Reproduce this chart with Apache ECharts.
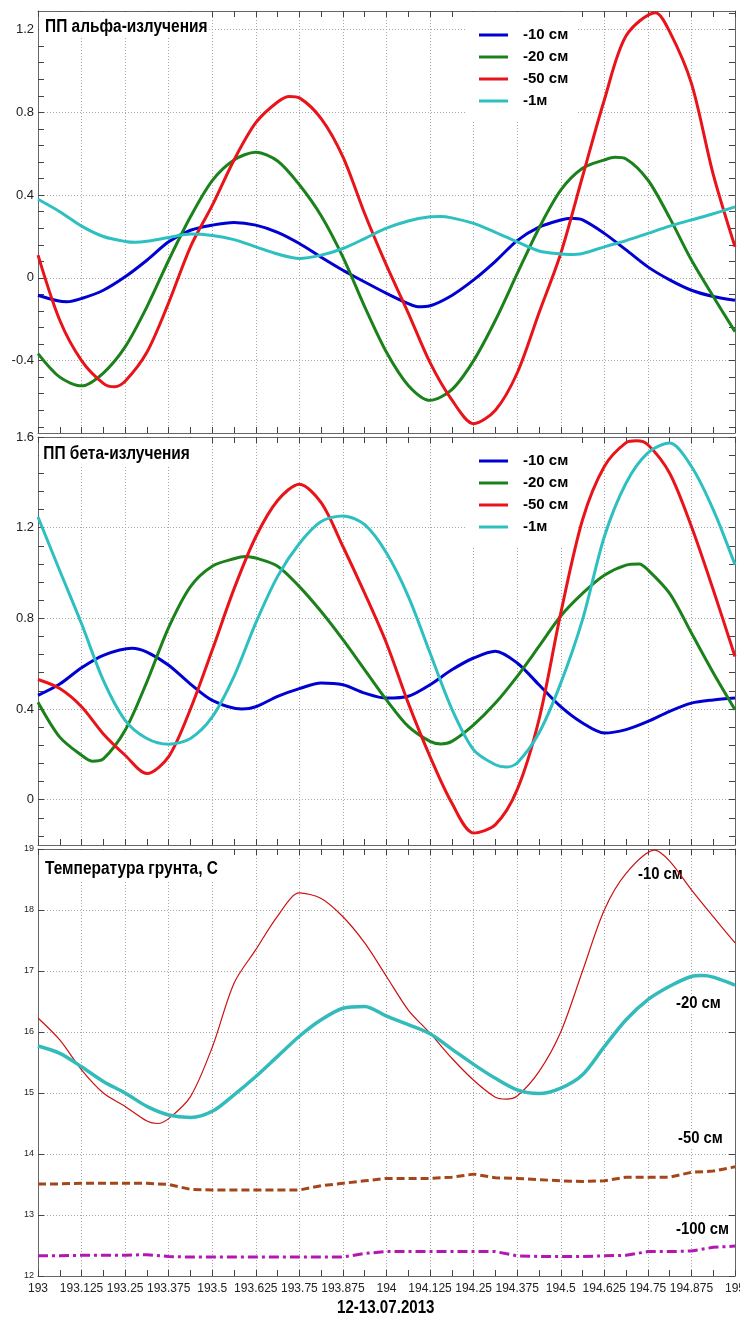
<!DOCTYPE html>
<html><head><meta charset="utf-8">
<script src="https://cdn.jsdelivr.net/npm/echarts@6/dist/echarts.min.js"></script>
<style>html,body{margin:0;padding:0;background:#fff}#c{width:740px;height:1319px}</style>
</head><body><div id="c"></div>
<script>
// x values (day of year)
const times = [193,193.0625,193.125,193.1875,193.25,193.3125,193.375,193.4375,193.5,193.5625,193.625,193.6875,193.75,193.8125,193.875,193.9375,194,194.0625,194.125,194.1875,194.25,194.3125,194.375,194.4375,194.5,194.5625,194.625,194.6875,194.75,194.8125,194.875,194.9375,195];

// ПП альфа-излучения (values at the times above, plus read-off turning points [t, v])
const alpha10 = [-0.084,-0.113,-0.10,-0.06,0.005,0.085,0.174,0.23,0.255,0.268,0.255,0.22,0.166,0.10,0.037,-0.02,-0.075,-0.125,-0.135,-0.085,-0.01,0.08,0.18,0.245,0.28,0.28,0.215,0.135,0.053,-0.01,-0.06,-0.09,-0.108];
const alpha10Turns = [[193.083,-0.116],[194.09,-0.14],[194.53,0.288]];
const alpha20 = [-0.366,-0.48,-0.522,-0.46,-0.334,-0.14,0.085,0.295,0.47,0.57,0.607,0.565,0.45,0.30,0.10,-0.14,-0.36,-0.52,-0.592,-0.54,-0.40,-0.205,0.02,0.24,0.424,0.53,0.57,0.575,0.473,0.29,0.086,-0.09,-0.26];
const alpha20Turns = [[194.655,0.583]];
const alpha50 = [0.11,-0.205,-0.40,-0.51,-0.50,-0.36,-0.12,0.15,0.35,0.57,0.75,0.85,0.87,0.77,0.585,0.31,0.06,-0.17,-0.41,-0.59,-0.705,-0.64,-0.46,-0.17,0.118,0.49,0.86,1.17,1.275,1.19,0.94,0.50,0.15];
const alpha50Turns = [[193.22,-0.527],[193.722,0.877],[194.772,1.282]];
const alpha1m = [0.38,0.32,0.25,0.20,0.176,0.177,0.195,0.212,0.205,0.185,0.15,0.115,0.094,0.11,0.142,0.19,0.24,0.275,0.295,0.29,0.263,0.22,0.174,0.13,0.115,0.118,0.15,0.18,0.215,0.25,0.28,0.31,0.343];
const alpha1mTurns = [[193.28,0.172],[194.155,0.297],[194.525,0.113]];

// ПП бета-излучения
const beta10 = [0.46,0.51,0.582,0.637,0.666,0.651,0.593,0.51,0.438,0.404,0.41,0.456,0.49,0.515,0.507,0.47,0.448,0.456,0.507,0.573,0.625,0.655,0.603,0.507,0.41,0.338,0.294,0.309,0.345,0.39,0.426,0.44,0.448];
const beta10Turns = [[193.27,0.668],[193.585,0.40]];
const beta20 = [0.43,0.276,0.196,0.18,0.306,0.52,0.76,0.94,1.03,1.063,1.066,1.03,0.94,0.83,0.706,0.573,0.44,0.323,0.257,0.257,0.33,0.426,0.544,0.676,0.81,0.91,0.99,1.035,1.014,0.91,0.735,0.56,0.397];
const beta20Turns = [[193.155,0.17],[193.594,1.073],[194.156,0.246],[194.725,1.04]];
const beta50 = [0.53,0.49,0.41,0.29,0.196,0.115,0.19,0.40,0.66,0.93,1.16,1.32,1.392,1.31,1.117,0.91,0.69,0.426,0.19,-0.015,-0.147,-0.11,0.044,0.353,0.823,1.235,1.47,1.575,1.566,1.44,1.205,0.926,0.632];
const beta50Turns = [[194.717,1.583]];
const beta1m = [1.247,1.01,0.776,0.526,0.35,0.27,0.245,0.27,0.365,0.544,0.78,0.985,1.13,1.227,1.252,1.213,1.088,0.897,0.647,0.40,0.22,0.154,0.162,0.294,0.514,0.794,1.16,1.397,1.53,1.573,1.47,1.28,1.036];
const beta1mTurns = [[194.343,0.144]];

// Температура грунта, С
const temp10 = [16.23,15.87,15.38,15.0,14.78,14.54,14.58,14.94,15.75,16.8,17.35,17.9,18.28,18.19,17.89,17.46,16.91,16.36,15.98,15.57,15.21,14.93,14.95,15.35,16.0,17.0,18.0,18.6,18.96,18.8,18.33,17.89,17.46];
const temp10Turns = [[193.343,14.5],[194.343,14.9],[194.77,18.98]];
const temp20 = [15.77,15.65,15.43,15.19,15.0,14.78,14.64,14.6,14.7,14.97,15.27,15.6,15.93,16.2,16.39,16.42,16.26,16.12,15.97,15.72,15.47,15.24,15.05,14.99,15.08,15.3,15.76,16.2,16.53,16.75,16.91,16.9,16.77];
const temp20Turns = [[194.905,16.925]];
const temp50 = [13.51,13.51,13.52,13.52,13.52,13.52,13.50,13.42,13.41,13.41,13.41,13.41,13.41,13.48,13.52,13.56,13.60,13.60,13.60,13.62,13.67,13.61,13.60,13.58,13.56,13.55,13.56,13.62,13.62,13.62,13.70,13.72,13.79];
const temp100 = [12.33,12.33,12.34,12.34,12.34,12.35,12.32,12.31,12.31,12.31,12.31,12.31,12.31,12.31,12.31,12.37,12.40,12.40,12.40,12.40,12.40,12.40,12.33,12.32,12.32,12.32,12.33,12.34,12.40,12.40,12.41,12.47,12.49];

// tick labels
const alphaLabels = [-0.4, 0, 0.4, 0.8, 1.2];
const betaLabels = [0, 0.4, 0.8, 1.2, 1.6];
const tempLabels = [12, 13, 14, 15, 16, 17, 18, 19];
const legendNames = ['-10 см', '-20 см', '-50 см', '-1м'];

function steps(min, max, step) {
  const out = [];
  for (let k = Math.ceil(min / step - 1e-9); k * step <= max + 1e-9; k++) out.push(Math.round(k * step * 1000) / 1000);
  return out;
}

const L = "'Liberation Sans',Arial,sans-serif";
const frame = {color: '#666', width: 1};
const tickStyle = {color: '#444', width: 1};

function xAx(gi, pos, showLabel) {
  return {
    type: 'value', gridIndex: gi, position: pos, min: 193, max: 195, interval: 0.125,
    axisLine: {show: true, onZero: false, lineStyle: frame},
    axisTick: {show: true, inside: true, length: 6, lineStyle: tickStyle},
    minorTick: {show: true, splitNumber: 2, length: 6, lineStyle: tickStyle},
    axisLabel: {show: showLabel, fontFamily: L, fontSize: 12, color: '#222', margin: 7, formatter: v => String(v)},
    splitLine: {show: pos === 'bottom', lineStyle: {color: '#a8a8a8', type: [1, 2], width: 1}},
    minorSplitLine: {show: false}
  };
}

function yAxs(gi, min, max, labels, ticks, fs) {
  const base = {type: 'value', gridIndex: gi, min: min, max: max, scale: true};
  return [
    Object.assign({}, base, {
      position: 'left',
      axisLine: {show: true, onZero: false, lineStyle: frame},
      axisTick: {show: true, inside: true, length: 6, customValues: ticks, lineStyle: tickStyle},
      axisLabel: {show: true, customValues: labels, fontFamily: L, fontSize: fs, color: '#222', margin: 4},
      splitLine: {show: false}
    }),
    Object.assign({}, base, {
      position: 'right',
      axisLine: {show: true, onZero: false, lineStyle: frame},
      axisTick: {show: true, inside: true, length: 6, customValues: ticks, lineStyle: tickStyle},
      axisLabel: {show: false},
      splitLine: {show: false}
    }),
    Object.assign({}, base, {
      position: 'left',
      axisLine: {show: false},
      axisTick: {show: false, customValues: labels},
      axisLabel: {show: false},
      splitLine: {show: true, lineStyle: {color: '#a8a8a8', type: [1, 2], width: 1}}
    })
  ];
}

// merge regular samples with read-off turning points (a turning point replaces a sample lying very close to it)
function merge(vals, turns) {
  turns = turns || [];
  const pts = times.map((t, i) => [t, vals[i]])
    .filter(p => !turns.some(q => Math.abs(q[0] - p[0]) < 0.024));
  return pts.concat(turns).sort((a, b) => a[0] - b[0]);
}

function ser(name, gi, vals, turns, color, width, smooth, type) {
  return {
    type: 'line', name: name, xAxisIndex: gi * 2, yAxisIndex: gi * 3,
    data: merge(vals, turns), showSymbol: false, symbol: 'none', smooth: smooth, clip: true,
    lineStyle: {color: color, width: width, type: type || 'solid'},
    itemStyle: {color: color},
    emphasis: {disabled: true}, silent: true, z: 5
  };
}

const C = {blue: '#0000d2', green: '#1b821b', red: '#e8141a', cyan: '#2ec0c0'};

const xAxis = [xAx(0, 'bottom', false), xAx(0, 'top', false),
               xAx(1, 'bottom', false), xAx(1, 'top', false),
               xAx(2, 'bottom', true), xAx(2, 'top', false)];
const yAxis = [].concat(
  yAxs(0, -0.75, 1.29, alphaLabels, steps(-0.75, 1.29, 0.08), 13),
  yAxs(1, -0.2, 1.6, betaLabels, steps(-0.2, 1.6, 0.08), 13),
  yAxs(2, 12, 19, tempLabels, tempLabels, 9)
);

const S = 0.3;
const series = [
  ser('-10 см', 0, alpha10, alpha10Turns, C.blue, 3, S),
  ser('-20 см', 0, alpha20, alpha20Turns, C.green, 3, S),
  ser('-50 см', 0, alpha50, alpha50Turns, C.red, 3, S),
  ser('-1м', 0, alpha1m, alpha1mTurns, C.cyan, 3, S),
  ser('-10 см', 1, beta10, beta10Turns, C.blue, 3, S),
  ser('-20 см', 1, beta20, beta20Turns, C.green, 3, S),
  ser('-50 см', 1, beta50, beta50Turns, C.red, 3, S),
  ser('-1м', 1, beta1m, beta1mTurns, C.cyan, 3, S),
  ser('Т -10 см', 2, temp10, temp10Turns, '#cc1111', 1.2, S),
  ser('Т -20 см', 2, temp20, temp20Turns, '#33bbbb', 3.5, S),
  ser('Т -50 см', 2, temp50, null, '#a5461a', 3, false, [8, 4]),
  ser('Т -100 см', 2, temp100, null, '#b416b4', 3, false, [10, 4, 3, 4])
];

function legend(top) {
  return {
    orient: 'vertical', left: 466, top: top, padding: [13, 8, 10, 13], z: 3,
    itemWidth: 29, itemHeight: 3, itemGap: 2, icon: 'rect',
    backgroundColor: '#fff', selectedMode: false, data: legendNames,
    textStyle: {fontFamily: L, fontWeight: 'bold', fontSize: 15, lineHeight: 20, color: '#000', padding: [0, 0, 0, 10]}
  };
}

function txt(text, x, y, size, sx, padding, vAlign, bg) {
  return {
    type: 'text', x: x, y: y, scaleX: sx, z: 3, silent: true,
    style: {
      text: text, font: 'bold ' + size + 'px ' + L, fill: '#000',
      align: 'left', verticalAlign: vAlign, lineHeight: size,
      backgroundColor: bg ? '#fff' : null, padding: padding
    }
  };
}

const option = {
  animation: false,
  backgroundColor: '#fff',
  grid: [
    {left: 38, right: 5, top: 11, height: 422, containLabel: false, outerBoundsMode: 'none'},
    {left: 38, right: 5, top: 437, height: 408, containLabel: false, outerBoundsMode: 'none'},
    {left: 38, right: 5, top: 849, height: 427, containLabel: false, outerBoundsMode: 'none'}
  ],
  legend: [legend(12), legend(438)],
  graphic: [
    txt('ПП альфа-излучения', 39, 12, 18, 0.86, [6, 2, 0, 7], 'top', true),
    txt('ПП бета-излучения', 39, 438, 18, 0.86, [7, 4, 2, 5], 'top', true),
    txt('Температура грунта, С', 39, 850, 18, 0.86, [10, 4, 4, 7], 'top', true),
    txt('-10 см', 637, 875, 16, 0.93, [1, 1, 1, 1], 'middle', true),
    txt('-20 см', 675, 1004, 16, 0.93, [1, 1, 1, 1], 'middle', true),
    txt('-50 см', 677, 1139, 16, 0.93, [1, 1, 1, 1], 'middle', true),
    txt('-100 см', 675, 1230, 16, 0.93, [1, 1, 1, 1], 'middle', true),
    txt('12-13.07.2013', 337, 1308, 18, 0.84, 0, 'middle', false)
  ],
  xAxis: xAxis,
  yAxis: yAxis,
  series: series
};

const chart = echarts.init(document.getElementById('c'), null, {renderer: 'canvas'});
chart.setOption(option);
</script>
</body></html>
